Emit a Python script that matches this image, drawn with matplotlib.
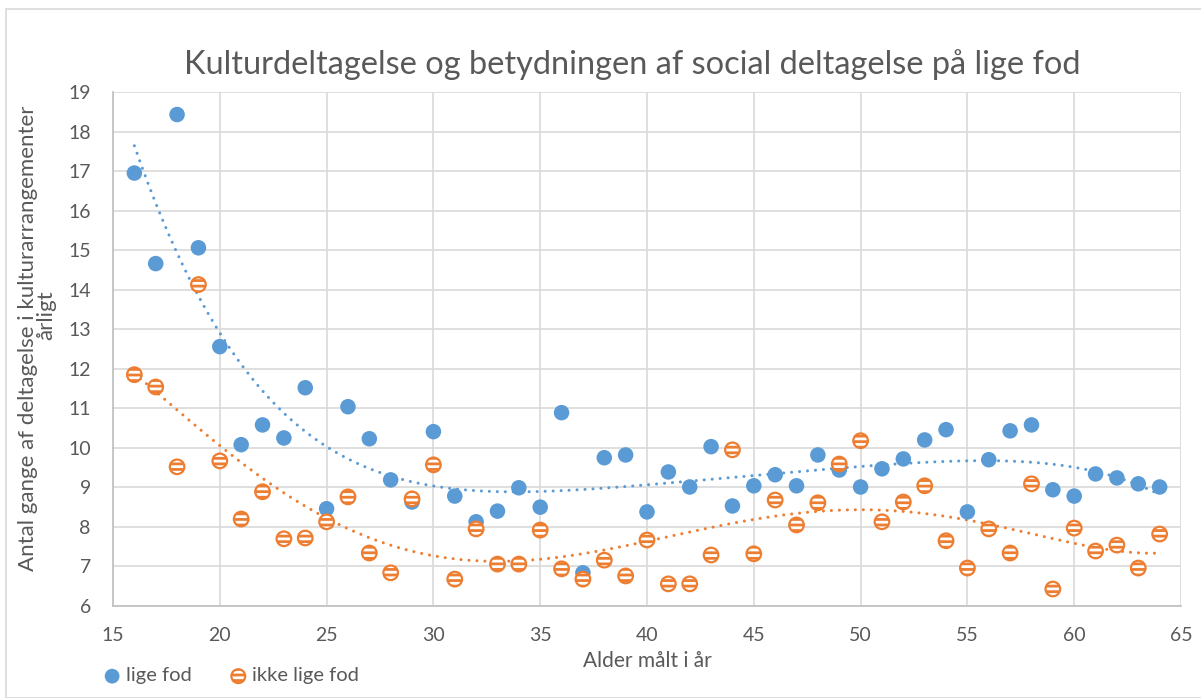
import numpy as np
import matplotlib.pyplot as plt
from matplotlib.patches import Rectangle

plt.rcParams["font.family"] = ["Lato", "DejaVu Sans"]
plt.rcParams["hatch.linewidth"] = 2.0

# alder 16..64
ages = np.arange(16, 65)

lige_fod = [
    16.95, 14.66, 18.43, 15.06, 12.56, 10.08, 10.58, 10.25, 11.52, 8.46,
    11.04, 10.23, 9.19, 8.63, 10.41, 8.78, 8.13, 8.40, 8.99, 8.50,
    10.89, 6.84, 9.75, 9.82, 8.38, 9.39, 9.01, 10.03, 8.53, 9.04,
    9.32, 9.04, 9.82, 9.44, 9.01, 9.47, 9.72, 10.20, 10.46, 8.38,
    9.70, 10.43, 10.58, 8.94, 8.78, 9.34, 9.24, 9.09, 9.01,
]

ikke_lige_fod = [
    11.85, 11.54, 9.52, 14.13, 9.67, 8.20, 8.89, 7.70, 7.72, 8.13,
    8.76, 7.34, 6.84, 8.71, 9.57, 6.68, 7.95, 7.06, 7.06, 7.92,
    6.94, 6.68, 7.16, 6.76, 7.67, 6.56, 6.56, 7.29, 9.95, 7.32,
    8.68, 8.05, 8.61, 9.59, 10.18, 8.13, 8.63, 9.04, 7.65, 6.96,
    7.95, 7.34, 9.09, 6.43, 7.97, 7.39, 7.54, 6.96, 7.82,
]

BLUE = "#5B9BD5"
ORANGE = "#ED7D31"
TEXT = "#595959"

fig = plt.figure(figsize=(12.01, 6.98), dpi=100)
ax = fig.add_axes([113 / 1201, 1 - 606 / 698, (1181 - 113) / 1201, (606 - 92) / 698])

# chart area border
fig.patches.append(Rectangle((6 / 1201, 0), 1.2, 1 - 9 / 698, transform=fig.transFigure,
                             fill=False, edgecolor="#D9D9D9", linewidth=1.2))

ax.scatter(ages, lige_fod, s=125, color=BLUE, edgecolors="none", zorder=3, label="lige fod")
ax.scatter(ages, ikke_lige_fod, s=110, facecolor="white", edgecolors=ORANGE, linewidths=1.6,
           hatch="---", zorder=3, label="ikke lige fod")

# polynomial trend lines (5th order)
xs = np.linspace(16, 64, 300)
for ys, col in ((lige_fod, BLUE), (ikke_lige_fod, ORANGE)):
    coef = np.polyfit(ages, ys, 5)
    ax.plot(xs, np.polyval(coef, xs), color=col, linewidth=2.2, linestyle=(0, (0.01, 2.6)),
            dash_capstyle="round", zorder=2)

ax.set_xlim(15, 65)
ax.set_ylim(6, 19)
ax.set_xticks(range(15, 66, 5))
ax.set_yticks(range(6, 20))
ax.grid(color="#D9D9D9", linewidth=1.2, zorder=0)
ax.set_axisbelow(True)
ax.tick_params(length=0, labelsize=14, colors=TEXT)
ax.tick_params(axis="x", pad=15)
ax.tick_params(axis="y", pad=16)
for side in ("top", "right"):
    ax.spines[side].set_visible(False)
for side in ("left", "bottom"):
    ax.spines[side].set_color("#BFBFBF")
    ax.spines[side].set_linewidth(1.2)

ax.set_title("Kulturdeltagelse og betydningen af social deltagelse på lige fod",
             fontsize=23.4, color=TEXT, pad=13, x=0.486)
ax.set_xlabel("Alder målt i år", fontsize=15, color=TEXT)
ax.xaxis.set_label_coords(0.5, -0.088)

fig.text(28 / 1201, 1 - 338 / 698, "Antal gange af deltagelse i kulturarrangementer",
         rotation=90, ha="center", va="center", fontsize=16, color=TEXT)
fig.text(46 / 1201, 1 - 315 / 698, "årligt",
         rotation=90, ha="center", va="center", fontsize=16, color=TEXT)

ax.legend(loc="center left", bbox_to_anchor=(-0.0178, -0.136), ncol=2, frameon=False,
          fontsize=14.5, labelcolor=TEXT, handlelength=0.8, handletextpad=0.3,
          columnspacing=1.9, markerscale=0.95, borderpad=0)

fig.savefig("out.png")
